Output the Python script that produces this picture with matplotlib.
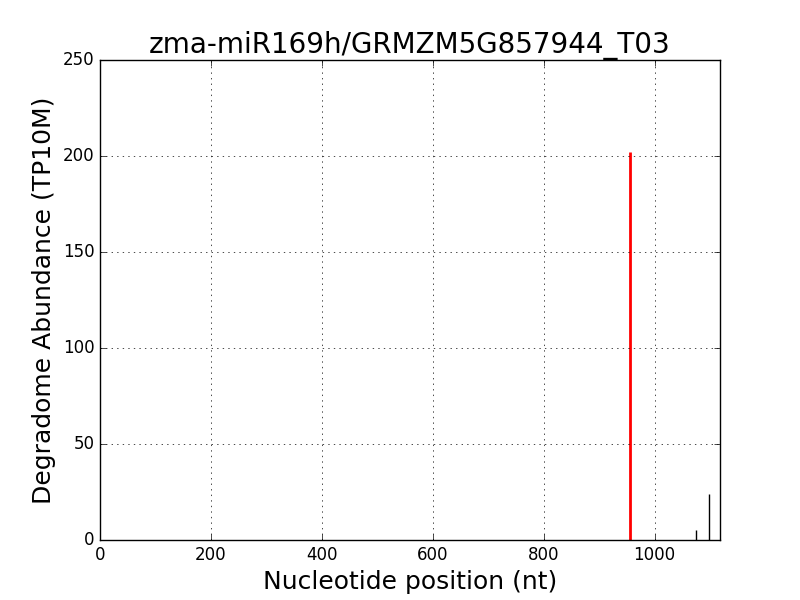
import matplotlib
matplotlib.use("Agg")
import matplotlib.pyplot as plt

plt.style.use("classic")

title = "zma-miR169h/GRMZM5G857944_T03"
positions = [1075, 1099]
abundances = [5, 24]
target_pos = [956]
target_abund = [202]
x_max = 1118

fig = plt.figure(figsize=(8, 6), dpi=100, facecolor="white")
ax = fig.add_subplot(111)
ax.vlines(positions, 0, abundances, colors="black", linewidth=1)
ax.vlines(target_pos, 0, target_abund, colors="red", linewidth=2)
ax.set_xlim(0, x_max)
ax.set_ylim(0, 250)
ax.grid(True)
ax.set_title(title, fontsize=20)
ax.set_xlabel("Nucleotide position (nt)", fontsize=18)
ax.set_ylabel("Degradome Abundance (TP10M)", fontsize=18)
fig.savefig("out.png", dpi=100, facecolor="white")
